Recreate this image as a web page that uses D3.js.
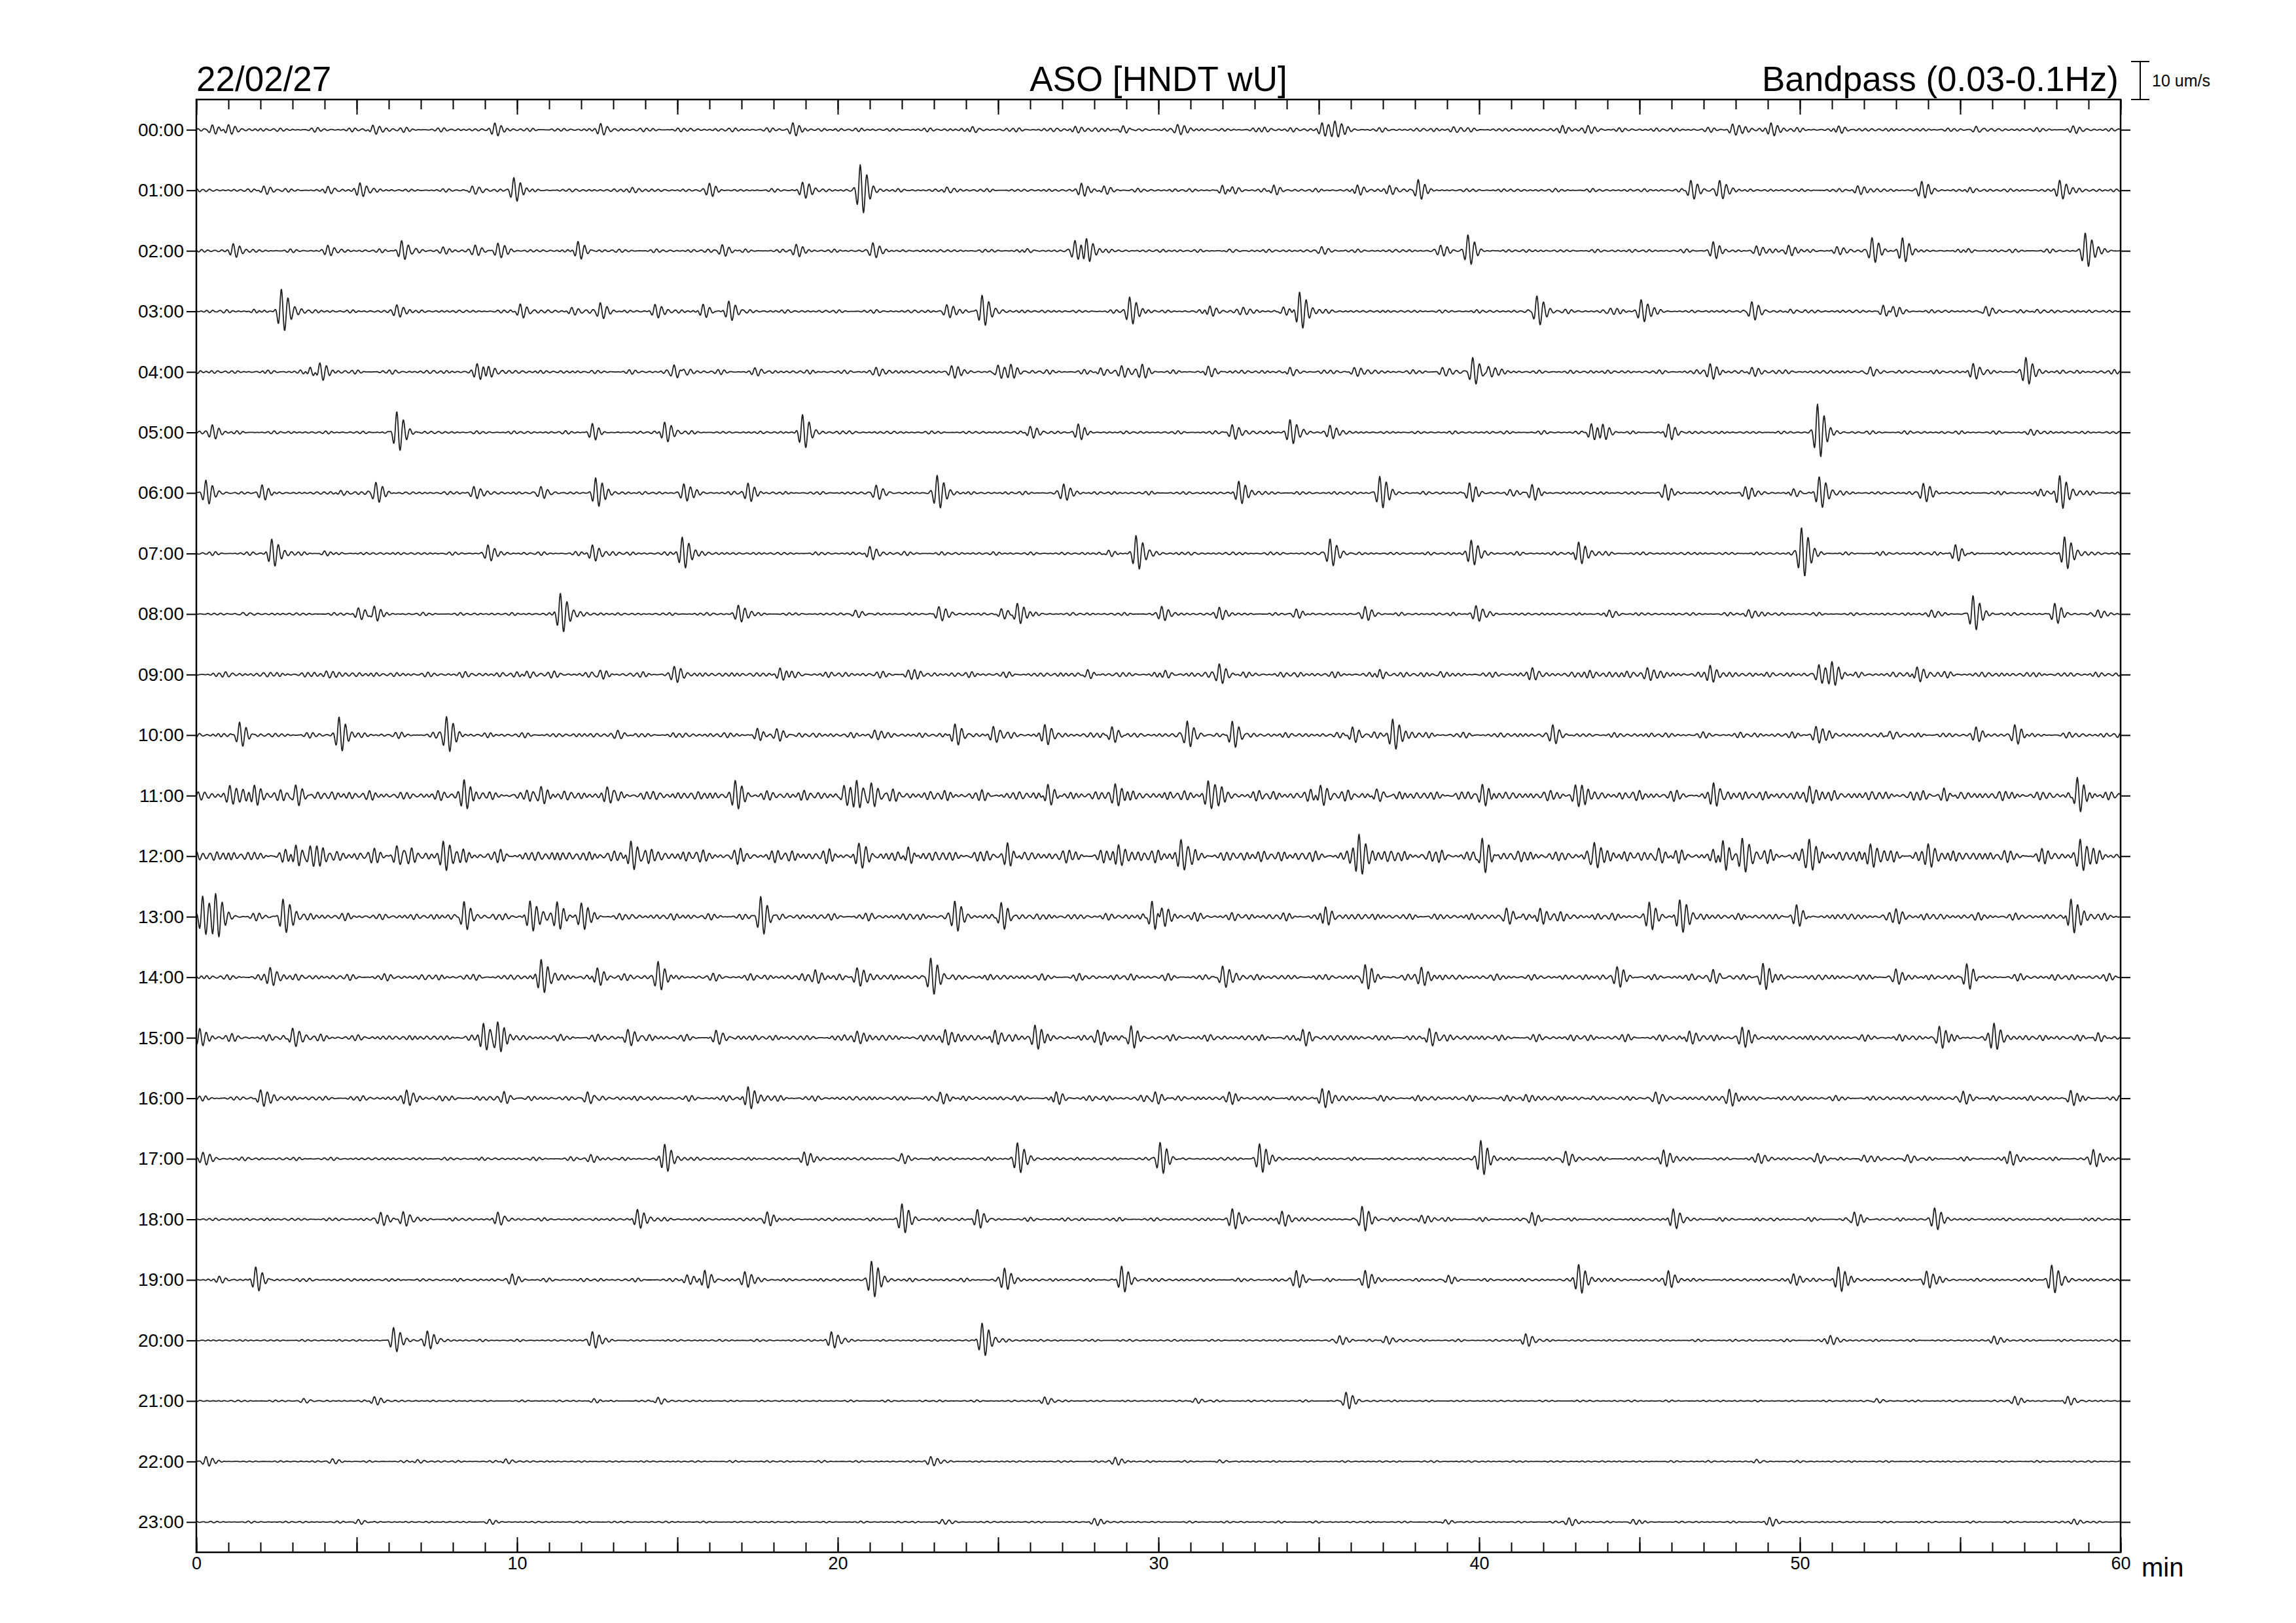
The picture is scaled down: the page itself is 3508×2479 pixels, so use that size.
<!DOCTYPE html>
<html>
<head>
<meta charset="utf-8">
<script src="https://cdn.jsdelivr.net/npm/d3@7"></script>
<style>
  body { margin: 0; background: #fff; }
  svg { font-family: "Liberation Sans", Arial, Helvetica, sans-serif; }
</style>
</head>
<body>
<script>
// texts
const dateLabel = "22/02/27";
const stationLabel = "ASO [HNDT wU]";
const filterLabel = "Bandpass (0.03-0.1Hz)";
const scaleLabel = "10 um/s";
const scaleValue = 10; // um/s
const unitLabel = "min";

// tick labels
const hourLabels = ["00:00","01:00","02:00","03:00","04:00","05:00","06:00","07:00",
  "08:00","09:00","10:00","11:00","12:00","13:00","14:00","15:00","16:00","17:00",
  "18:00","19:00","20:00","21:00","22:00","23:00"];
const minuteLabels = [0, 10, 20, 30, 40, 50, 60];

// background noise level of each hour line (um/s)
const noiseLevel = [0.6, 0.5, 0.5, 0.5, 0.6, 0.45, 0.5, 0.5, 0.45, 0.85, 0.8, 1.6,
  2.0, 1.1, 0.95, 0.95, 0.8, 0.5, 0.5, 0.5, 0.32, 0.26, 0.26, 0.26];

// events of each hour line: [minute, peak amplitude um/s]
const ev00 = [[0.5,1.2],[1.0,1.1],[5.5,1.5],[9.3,1.5],[12.6,1.5],[18.6,1.8],[24.2,1.1],[27.4,0.8],[28.9,1.1],[30.6,1.2],[33.3,0.6],[35.1,1.7],[35.5,1.8],[39.2,0.7],[42.6,0.9],[43.4,0.8],[47.9,1.5],[49.1,1.7],[51.2,1.2],[55.5,1.0],[58.5,0.9]];
const ev01 = [[2.1,1.2],[4.1,1.0],[5.1,1.7],[8.6,1.2],[9.9,3.4],[13.6,0.7],[16.0,1.7],[18.9,2.0],[20.7,6.3],[23.4,1.0],[27.6,1.7],[28.3,1.5],[32.0,1.5],[32.3,1.2],[33.6,1.5],[36.2,1.5],[37.2,1.2],[38.1,3.0],[46.6,2.7],[47.5,2.4],[51.8,1.2],[53.8,2.0],[55.3,1.0],[58.1,2.7]];
const ev02 = [[1.15,1.7],[4.1,1.0],[6.4,2.7],[7.7,1.0],[8.7,1.5],[9.4,2.0],[11.9,2.7],[16.4,1.7],[18.7,1.5],[21.1,2.0],[25.9,0.7],[27.4,2.4],[27.75,3.4],[32.2,0.7],[35.1,1.0],[38.8,1.2],[39.65,4.3],[47.3,2.4],[48.65,1.2],[49.65,1.5],[51.15,1.0],[52.25,3.7],[53.2,3.4],[55.25,0.7],[58.9,4.6]];
const ev03 = [[1.8,0.7],[2.65,5.9],[6.25,1.7],[10.1,2.0],[11.7,1.0],[12.6,2.2],[14.3,1.7],[15.8,2.0],[16.6,2.7],[23.4,1.7],[24.5,4.3],[29.1,3.7],[31.6,1.5],[32.65,0.7],[33.9,1.2],[34.4,5.1],[41.8,4.3],[44.1,0.7],[45.05,3.0],[48.5,2.7],[49.7,0.6],[52.6,1.7],[52.9,1.7],[55.8,1.7],[57.4,0.6]];
const ev04 = [[2.2,0.6],[3.55,1.5],[3.85,2.7],[8.75,2.0],[9.1,1.7],[14.9,1.7],[15.2,1.7],[17.4,0.7],[21.2,1.0],[23.55,1.5],[25.0,2.2],[25.4,1.7],[28.2,1.2],[28.85,1.2],[29.5,1.7],[31.55,1.7],[34.1,1.5],[36.1,1.2],[38.85,1.2],[39.8,3.9],[40.3,1.5],[47.2,2.0],[48.5,1.5],[52.2,1.5],[55.4,2.0],[57.05,3.2]];
const ev05 = [[0.5,2.0],[6.25,5.7],[12.35,2.4],[14.6,2.7],[18.9,4.9],[26.0,1.7],[27.5,2.2],[32.3,2.2],[34.1,3.4],[35.35,1.7],[43.5,2.4],[43.85,2.4],[45.9,2.4],[50.55,7.6],[57.2,0.6]];
const ev06 = [[0.3,3.4],[2.05,2.0],[4.5,0.7],[5.6,2.7],[8.65,1.7],[10.75,1.7],[12.45,3.9],[15.2,2.2],[17.2,2.4],[21.2,2.2],[23.1,4.3],[27.05,2.0],[32.5,3.2],[36.9,4.3],[39.7,2.7],[40.95,1.0],[41.65,2.2],[45.8,2.4],[48.3,1.5],[49.8,1.2],[50.6,4.3],[53.85,2.4],[57.5,1.0],[58.1,4.6]];
const ev07 = [[2.35,3.7],[4.0,0.7],[9.1,2.2],[12.35,2.4],[15.15,4.3],[21.0,2.2],[28.45,1.0],[29.3,4.6],[35.35,3.9],[39.75,3.4],[43.1,3.0],[50.05,6.7],[54.85,2.4],[58.25,4.6]];
const ev08 = [[1.45,0.6],[5.05,1.7],[5.55,2.4],[11.35,5.5],[16.9,2.2],[20.55,1.2],[23.15,2.0],[25.1,1.7],[25.6,3.0],[30.1,1.7],[31.9,1.7],[34.3,1.2],[36.45,1.7],[39.9,2.2],[44.05,1.0],[48.4,1.2],[54.1,1.0],[55.4,5.1],[57.95,2.9],[59.3,1.0]];
const ev09 = [[4.05,1.0],[10.3,1.0],[12.6,1.0],[14.9,1.7],[18.2,1.7],[18.55,1.7],[22.2,1.0],[27.8,1.5],[30.2,1.2],[31.9,2.7],[36.9,1.5],[38.8,1.2],[41.65,1.5],[43.45,1.0],[44.6,1.2],[45.25,1.5],[47.2,2.2],[50.6,2.2],[51.0,3.0],[53.65,2.2]];
const ev10 = [[1.35,3.4],[4.45,4.6],[7.8,4.6],[13.15,1.2],[17.5,2.0],[18.1,1.7],[21.15,1.2],[23.65,3.0],[24.85,2.2],[26.45,2.4],[28.55,2.2],[30.9,3.7],[32.3,3.7],[36.05,2.2],[37.3,4.3],[42.3,2.4],[50.5,2.2],[52.8,1.2],[55.5,2.2],[56.7,3.0]];
const ev11 = [[1.05,2.2],[1.8,2.7],[3.1,2.9],[8.35,3.7],[10.75,2.2],[12.8,2.9],[16.8,3.2],[20.2,3.0],[20.6,3.0],[21.05,3.0],[26.55,3.4],[28.65,2.9],[31.55,3.7],[35.05,2.9],[36.8,2.4],[40.1,2.7],[43.0,2.7],[47.3,2.9],[50.3,2.4],[54.5,2.2],[58.65,5.5]];
const ev12 = [[3.1,3.4],[3.55,2.4],[6.25,2.9],[7.7,3.0],[13.55,4.3],[20.65,3.7],[22.2,3.0],[25.3,3.4],[28.75,3.4],[30.7,4.3],[36.25,5.5],[40.1,5.1],[43.6,3.4],[45.6,2.4],[47.6,4.9],[48.2,4.9],[50.3,3.7],[52.2,2.7],[54.0,2.4],[58.75,3.7]];
const ev13 = [[0.2,5.1],[0.6,4.6],[2.7,4.6],[8.35,4.3],[10.4,3.7],[11.25,3.4],[12.0,3.0],[17.6,5.1],[23.65,3.4],[25.1,3.9],[29.8,4.3],[30.1,3.7],[35.2,2.7],[40.85,2.7],[41.9,2.2],[45.3,2.7],[46.25,4.3],[49.9,3.4],[53.0,1.5],[58.45,5.1]];
const ev14 = [[2.3,2.4],[10.75,4.4],[12.5,2.7],[14.4,4.6],[19.3,2.0],[20.6,2.7],[22.9,5.5],[32.0,3.4],[36.45,3.4],[38.2,2.4],[44.3,2.4],[47.3,2.0],[48.85,3.7],[53.0,2.2],[55.2,3.9]];
const ev15 = [[0.1,2.2],[3.0,2.7],[8.95,3.7],[9.4,3.7],[13.45,2.2],[16.2,2.2],[20.6,1.7],[23.35,2.2],[24.9,1.7],[26.15,3.4],[28.1,1.7],[29.15,3.2],[34.5,2.7],[38.45,2.7],[46.55,1.7],[48.2,2.4],[54.35,3.4],[56.05,3.2],[59.3,1.5]];
const ev16 = [[2.0,2.4],[6.55,2.2],[9.6,1.7],[12.2,1.7],[17.2,3.0],[23.2,1.7],[26.8,2.2],[29.9,1.7],[32.2,1.2],[35.1,2.7],[41.45,1.0],[43.55,1.0],[45.5,2.0],[47.8,2.4],[55.1,1.7],[58.45,2.2]];
const ev17 = [[0.2,1.7],[12.3,1.0],[14.6,3.7],[18.95,1.7],[22.0,1.7],[25.6,4.3],[30.05,4.3],[33.15,3.7],[40.05,4.6],[42.7,2.2],[45.75,2.2],[48.7,1.2],[50.55,1.5],[52.0,1.0],[53.35,1.2],[56.55,2.0],[59.15,2.2]];
const ev18 = [[5.75,1.5],[6.45,2.0],[9.4,2.0],[13.75,2.7],[17.8,2.0],[22.0,4.3],[24.35,2.7],[32.3,2.7],[33.85,2.2],[36.35,3.7],[38.2,1.0],[41.65,1.7],[46.05,2.7],[51.7,2.0],[54.2,2.7]];
const ev19 = [[0.7,1.0],[1.85,3.7],[9.85,1.2],[15.3,1.5],[15.85,2.7],[17.1,2.0],[21.05,4.6],[25.2,2.7],[28.85,3.9],[34.3,2.2],[36.45,2.2],[39.05,1.2],[43.1,3.9],[45.9,2.2],[49.8,1.5],[51.2,3.4],[53.95,2.2],[57.85,3.9]];
const ev20 = [[6.15,3.7],[7.2,2.2],[12.35,2.2],[19.8,2.2],[24.5,4.6],[35.65,1.2],[37.1,1.2],[41.45,1.7],[50.95,1.2],[56.05,1.2]];
const ev21 = [[3.35,0.7],[5.55,1.2],[12.4,0.7],[14.4,1.0],[26.45,1.0],[31.15,0.7],[35.85,2.4],[52.4,0.7],[56.7,1.2],[58.35,1.2]];
const ev22 = [[0.3,1.2],[4.25,0.6],[6.9,0.6],[9.65,0.7],[22.9,1.2],[28.65,1.0],[31.9,0.5],[48.65,0.7]];
const ev23 = [[5.05,0.7],[9.15,0.7],[23.25,0.6],[28.0,0.9],[38.95,0.7],[42.8,1.0],[44.8,0.7],[49.05,1.2],[58.55,0.7]];

const events = [ev00, ev01, ev02, ev03, ev04, ev05, ev06, ev07, ev08, ev09, ev10, ev11,
  ev12, ev13, ev14, ev15, ev16, ev17, ev18, ev19, ev20, ev21, ev22, ev23];

//variables
const width = 3508,
  height = 2479;
const plot = { left: 300, right: 3240, top: 152, bottom: 2371 };
const period = 0.21; // min, ~0.08 Hz inside the pass band
const step = 0.015; // min between samples

let svg, xScale, yScale, ampScale;

// canvas + texts
const drawCanvas = () => {
  svg = d3
    .select("body")
    .append("svg")
    .attr("width", width)
    .attr("height", height)
    .style("background", "#fff");

  svg
    .append("text")
    .attr("x", plot.left)
    .attr("y", 139)
    .style("font-size", "53px")
    .text(dateLabel);

  svg
    .append("text")
    .attr("x", (plot.left + plot.right) / 2)
    .attr("y", 139)
    .attr("text-anchor", "middle")
    .style("font-size", "53px")
    .text(stationLabel);

  svg
    .append("text")
    .attr("x", plot.right - 3)
    .attr("y", 139)
    .attr("text-anchor", "end")
    .style("font-size", "53px")
    .text(filterLabel);
};

//scales
const generateScales = () => {
  xScale = d3.scaleLinear().domain([0, 60]).range([plot.left, plot.right]);

  yScale = d3
    .scalePoint()
    .domain(hourLabels)
    .range([plot.top, plot.bottom])
    .padding(0.5);

  // um/s -> pixel offset (10 um/s is ~58 px)
  ampScale = d3.scaleLinear().domain([0, scaleValue]).range([0, -58]);
};

// axis
const generateAxis = () => {
  const minorTicks = d3.range(0, 61, 1);
  const majorTicks = d3.range(0, 61, 5);

  // bottom, ticks point inward
  svg
    .append("g")
    .attr("transform", "translate(0," + plot.bottom + ")")
    .call(d3.axisBottom(xScale).tickValues(minorTicks).tickSize(-15).tickFormat(""));
  svg
    .append("g")
    .attr("class", "x-major")
    .attr("transform", "translate(0," + plot.bottom + ")")
    .call(
      d3
        .axisBottom(xScale)
        .tickValues(majorTicks)
        .tickSize(-23)
        .tickPadding(7)
        .tickFormat((d) => (minuteLabels.includes(d) ? d : ""))
    );

  // top
  svg
    .append("g")
    .attr("transform", "translate(0," + plot.top + ")")
    .call(d3.axisTop(xScale).tickValues(minorTicks).tickSize(-15).tickFormat(""));
  svg
    .append("g")
    .attr("transform", "translate(0," + plot.top + ")")
    .call(d3.axisTop(xScale).tickValues(majorTicks).tickSize(-23).tickFormat(""));

  // hours left and right
  svg
    .append("g")
    .attr("class", "y-left")
    .attr("transform", "translate(" + plot.left + ",0)")
    .call(d3.axisLeft(yScale).tickSize(15).tickPadding(4));
  svg
    .append("g")
    .attr("transform", "translate(" + plot.right + ",0)")
    .call(d3.axisRight(yScale).tickSize(15).tickFormat(""));

  svg.selectAll(".domain").remove();
  svg.selectAll(".tick line").attr("stroke", "#000").attr("stroke-width", 2);
  svg
    .selectAll(".x-major text")
    .style("font-size", "27px")
    .attr("fill", "#000")
    .style("font-family", "'Liberation Sans', Arial, sans-serif");
  svg
    .selectAll(".y-left text")
    .style("font-size", "28px")
    .attr("fill", "#000")
    .style("font-family", "'Liberation Sans', Arial, sans-serif");

  svg
    .append("text")
    .attr("x", plot.right + 32)
    .attr("y", plot.bottom + 37)
    .style("font-size", "40px")
    .text(unitLabel);

  // frame
  svg
    .append("rect")
    .attr("x", plot.left)
    .attr("y", plot.top)
    .attr("width", plot.right - plot.left)
    .attr("height", plot.bottom - plot.top)
    .attr("fill", "none")
    .attr("stroke", "#000")
    .attr("stroke-width", 2.5);

  // amplitude scale bar
  const barX = plot.right + 30;
  const barTop = plot.top + ampScale(scaleValue);
  const bar = svg.append("g").attr("stroke", "#000").attr("stroke-width", 2);
  bar.append("line").attr("x1", barX).attr("x2", barX).attr("y1", barTop).attr("y2", plot.top);
  bar.append("line").attr("x1", barX - 14).attr("x2", barX + 14).attr("y1", barTop).attr("y2", barTop);
  bar.append("line").attr("x1", barX - 14).attr("x2", barX + 14).attr("y1", plot.top).attr("y2", plot.top);
  svg
    .append("text")
    .attr("x", barX + 18)
    .attr("y", (barTop + plot.top) / 2 + 9)
    .style("font-size", "25px")
    .text(scaleLabel);
};

// one event wavelet: short rise, longer decay
const wavelet = (dt) => {
  const env =
    dt < 0
      ? Math.exp(-0.5 * (dt / 0.09) ** 2)
      : 0.82 * Math.exp(-0.5 * (dt / 0.2) ** 2) + 0.18 * Math.exp(-dt / 0.5);
  return env * Math.cos((2 * Math.PI * dt) / period);
};

// ground noise texture at the level read for the line
const groundNoise = (t, r) => {
  const a =
    0.55 * Math.sin((2 * Math.PI * t) / 0.197 + r * 1.1) +
    0.35 * Math.sin((2 * Math.PI * t) / 0.233 + r * 2.3) +
    0.25 * Math.sin((2 * Math.PI * t) / 0.163 + r * 0.6);
  const m =
    0.4 +
    0.6 *
      Math.abs(
        Math.sin((2 * Math.PI * t) / 2.9 + r) * Math.sin((2 * Math.PI * t) / 1.13 + 2 * r)
      );
  return a * m;
};

// traces
const drawTraces = () => {
  const times = d3.range(0, 60 + step / 2, step);

  hourLabels.forEach((label, r) => {
    const y0 = yScale(label);
    const evs = events[r];
    const trace = times.map((t) => {
      let v = noiseLevel[r] * groundNoise(t, r);
      evs.forEach(([t0, a]) => {
        const dt = t - t0;
        if (dt > -0.6 && dt < 3) v += a * wavelet(dt);
      });
      return [t, v];
    });

    const line = d3
      .line()
      .x((d) => xScale(d[0]))
      .y((d) => y0 + ampScale(d[1]));

    svg
      .append("path")
      .datum(trace)
      .attr("class", "trace")
      .attr("d", line)
      .attr("fill", "none")
      .attr("stroke", "#222")
      .attr("stroke-width", 1.8)
      .attr("stroke-linejoin", "round");
  });
};

drawCanvas();
generateScales();
drawTraces();
generateAxis();
</script>
</body>
</html>
